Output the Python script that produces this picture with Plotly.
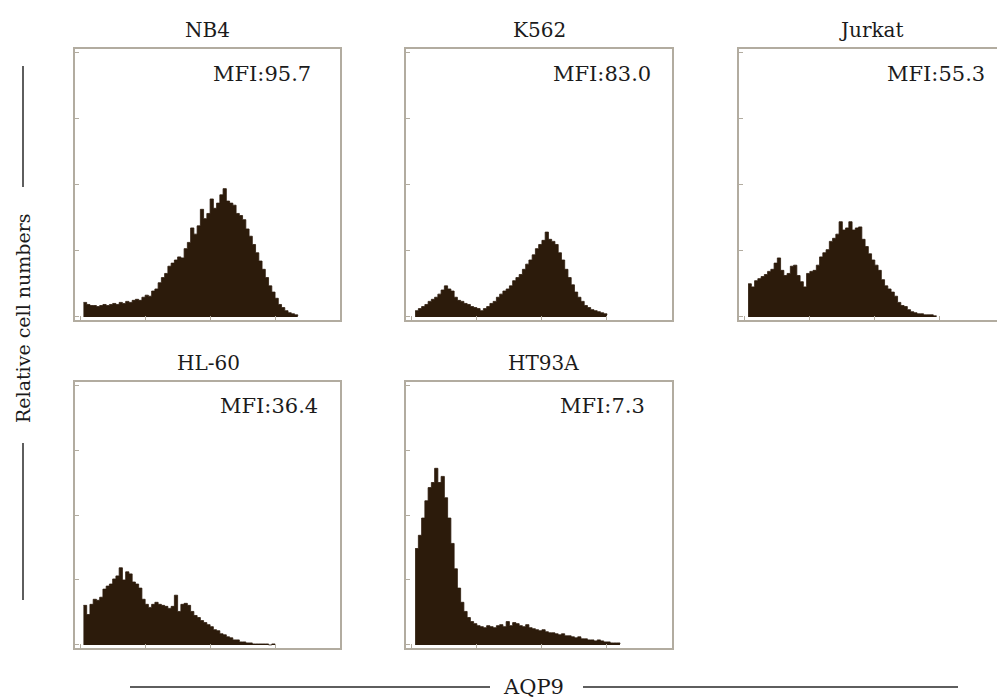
import numpy as np
import plotly.graph_objects as go

# ---------------- data (counts per 0.05-decade channel, starting at log10 = 0.05) -------------
panel_names = ["NB4", "K562", "Jurkat", "HL-60", "HT93A"]
mfi_labels = ["MFI:95.7", "MFI:83.0", "MFI:55.3", "MFI:36.4", "MFI:7.3"]

nb4_counts = [14, 12, 11, 11, 10, 11, 12, 11, 12, 13, 12, 14, 13, 15, 14, 16, 17, 16, 19, 21,
              20, 25, 27, 33, 38, 42, 49, 52, 55, 58, 57, 66, 72, 86, 80, 88, 104, 95, 100, 114,
              105, 110, 118, 124, 112, 110, 108, 100, 98, 94, 85, 78, 70, 62, 54, 46, 38, 30, 24, 18,
              12, 9, 6, 4, 3, 2, 1]
k562_counts = [6, 8, 10, 12, 15, 17, 19, 22, 26, 30, 27, 25, 19, 16, 15, 13, 12, 10, 9, 8,
               6, 8, 10, 13, 15, 19, 22, 25, 27, 30, 35, 38, 41, 46, 51, 55, 60, 66, 70, 74,
               82, 75, 73, 70, 62, 55, 46, 38, 31, 24, 19, 15, 11, 9, 7, 6, 5, 4, 3, 2]
jurkat_counts = [32, 29, 35, 37, 39, 41, 44, 46, 52, 57, 45, 40, 42, 49, 50, 40, 34, 29, 42, 44,
                 45, 50, 58, 62, 65, 73, 76, 80, 92, 84, 86, 92, 84, 86, 87, 75, 68, 61, 55, 50,
                 45, 36, 30, 27, 24, 20, 14, 11, 10, 7, 5, 4, 3, 3, 2, 2, 2, 1, 1]
hl60_counts = [39, 30, 40, 45, 44, 47, 55, 58, 60, 65, 68, 76, 64, 72, 70, 62, 60, 56, 45, 40,
               37, 40, 42, 40, 39, 38, 36, 38, 49, 33, 40, 41, 39, 33, 29, 27, 24, 22, 20, 18,
               15, 14, 11, 10, 8, 7, 5, 5, 3, 3, 2, 2, 1, 1, 1, 1, 1, 0, 1, 0]
ht93a_counts = [95, 108, 125, 142, 155, 160, 174, 160, 166, 145, 125, 100, 75, 56, 42, 33, 27, 23, 21, 19,
                18, 17, 19, 18, 17, 19, 20, 18, 23, 19, 22, 21, 19, 18, 20, 17, 16, 15, 14, 15,
                13, 12, 12, 11, 10, 11, 9, 9, 8, 7, 8, 6, 6, 5, 5, 4, 5, 4, 3, 3,
                2, 2, 2, 1]

all_counts = [nb4_counts, k562_counts, jurkat_counts, hl60_counts, ht93a_counts]

x_tick_vals = [1, 10, 100, 1000]
y_tick_vals = [0, 64, 128, 192, 256]

# ---------------- layout geometry -------------
W, H = 997, 700
boxes = [  # (left, right, top, bottom) in px
    (75, 340, 49, 320),
    (406, 672, 49, 320),
    (739, 997, 49, 320),
    (75, 340, 382, 648),
    (406, 672, 382, 648),
]
x_ranges = [[-0.08, 4.0], [-0.09, 4.0], [-0.09, 3.88], [-0.08, 4.0], [-0.09, 4.0]]
y_range = [-3, 259]

fill_col = "rgb(44,27,11)"
frame_col = "rgb(178,172,160)"
text_col = "#1b1b1b"
FONT = "DejaVu Serif"

fig = go.Figure()
layout = dict(width=W, height=H, margin=dict(l=0, r=0, t=0, b=0),
              paper_bgcolor="white", plot_bgcolor="white", showlegend=False,
              font=dict(family=FONT))

for i, counts in enumerate(all_counts):
    n = i + 1
    xa = "x" if n == 1 else f"x{n}"
    ya = "y" if n == 1 else f"y{n}"
    logc = 0.05 * np.arange(1, len(counts) + 1)
    xs = 10 ** logc
    fig.add_trace(go.Scatter(x=xs, y=counts, xaxis=xa, yaxis=ya, mode="lines",
                             line=dict(color=fill_col, width=0.8, shape="hv"),
                             fill="tozeroy", fillcolor=fill_col, hoverinfo="skip"))
    l, r, t, b = boxes[i]
    xkey = "xaxis" if n == 1 else f"xaxis{n}"
    ykey = "yaxis" if n == 1 else f"yaxis{n}"
    layout[xkey] = dict(domain=[l / W, min(r / W, 1.0)], type="log", range=x_ranges[i],
                        anchor=ya, showgrid=False, zeroline=False, showline=True, mirror=True,
                        linecolor=frame_col, linewidth=2, ticks="inside", ticklen=4,
                        tickcolor=frame_col, tickvals=x_tick_vals, showticklabels=False,
                        fixedrange=True)
    layout[ykey] = dict(domain=[1 - b / H, 1 - t / H], range=y_range, anchor=xa,
                        showgrid=False, zeroline=False, showline=True,
                        mirror=(n != 3), linecolor=frame_col, linewidth=2,
                        ticks="inside", ticklen=4, tickcolor=frame_col,
                        tickvals=y_tick_vals, showticklabels=False, fixedrange=True)

fig.update_layout(**layout)

# titles and MFI labels
title_pos = [(207, 30), (539, 30), (871, 30), (208, 363), (543, 363)]
mfi_pos = [(313, 74), (653, 74), (987, 74), (320, 406), (647, 406)]
for i in range(5):
    tx, ty = title_pos[i]
    fig.add_annotation(x=tx / W, y=1 - ty / H, xref="paper", yref="paper", text=panel_names[i],
                       showarrow=False, xanchor="center", yanchor="middle",
                       font=dict(family=FONT, size=20, color=text_col))
    mx, my = mfi_pos[i]
    fig.add_annotation(x=mx / W, y=1 - my / H, xref="paper", yref="paper", text=mfi_labels[i],
                       showarrow=False, xanchor="right", yanchor="middle",
                       font=dict(family=FONT, size=21, color=text_col))

# axis captions
fig.add_annotation(x=533 / W, y=1 - 687 / H, xref="paper", yref="paper", text="AQP9",
                   showarrow=False, xanchor="center", yanchor="middle",
                   font=dict(family=FONT, size=21, color=text_col))
fig.add_annotation(x=23 / W, y=1 - 318 / H, xref="paper", yref="paper",
                   text="Relative cell numbers", textangle=-90, showarrow=False,
                   xanchor="center", yanchor="middle",
                   font=dict(family=FONT, size=19, color=text_col))

line_col = "rgb(40,40,40)"
for (x0, y0, x1, y1) in [(130, 687, 490, 687), (583, 687, 958, 687),
                         (23, 66, 23, 187), (23, 443, 23, 600)]:
    fig.add_shape(type="line", xref="paper", yref="paper",
                  x0=x0 / W, x1=x1 / W, y0=1 - y0 / H, y1=1 - y1 / H,
                  line=dict(color=line_col, width=1.5))

fig.write_html("out.html")
